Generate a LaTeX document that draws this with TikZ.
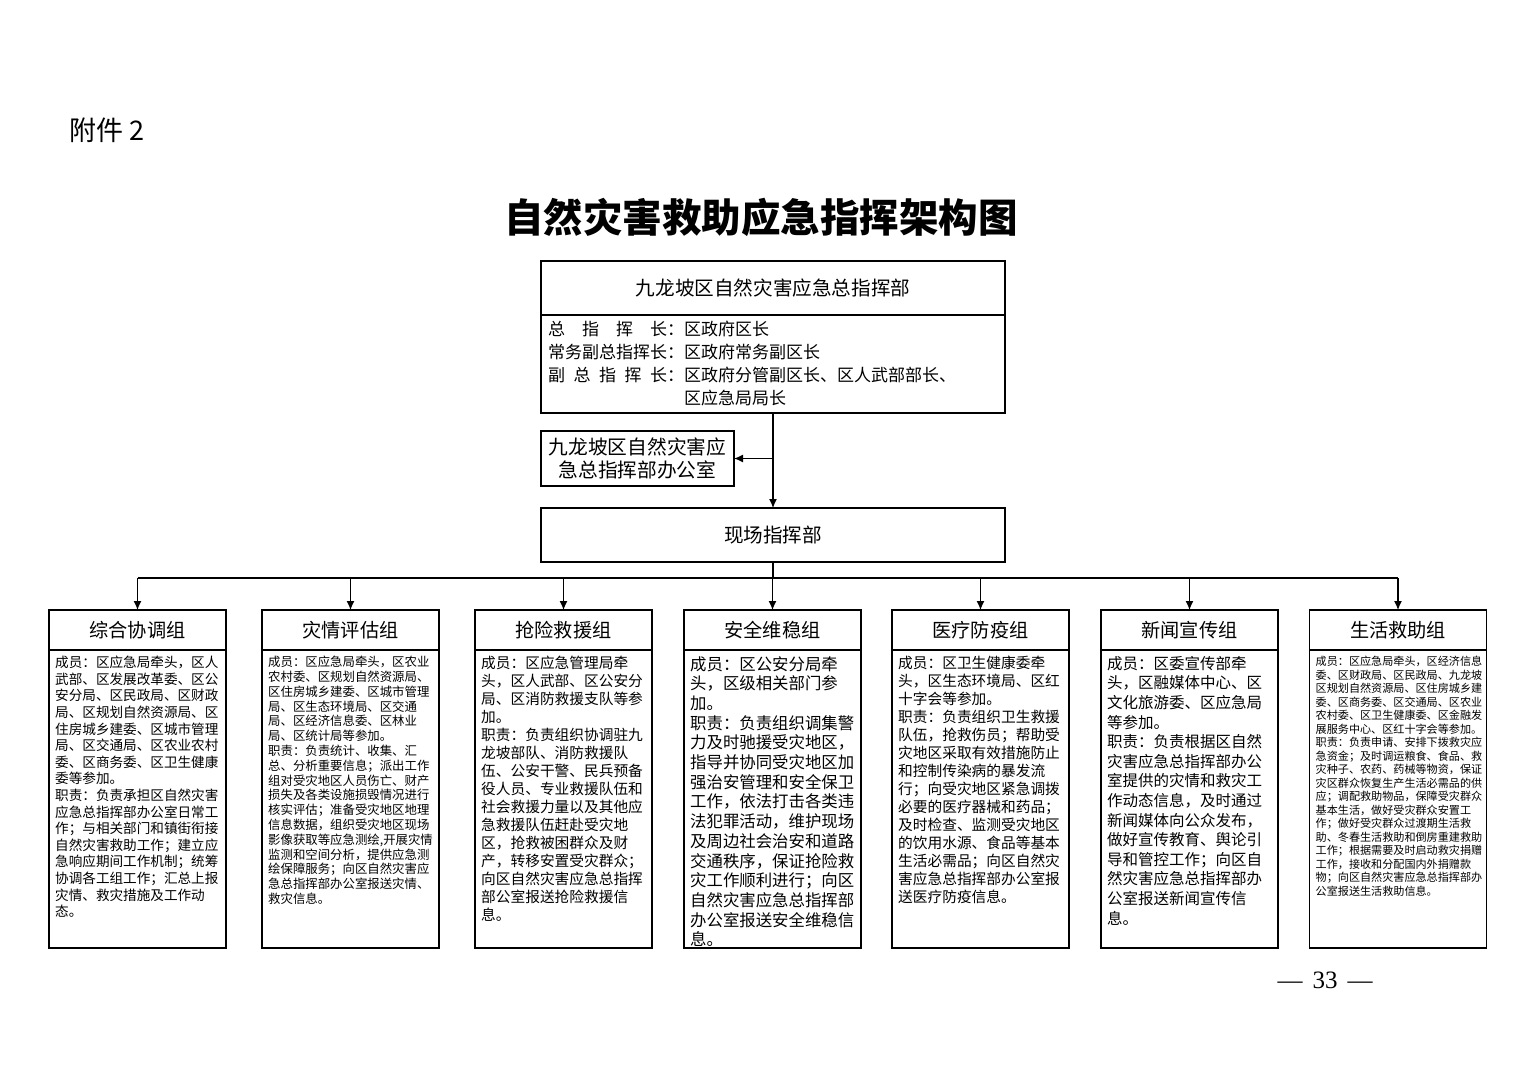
\documentclass[tikz,border=0pt]{standalone}
\usepackage{fontspec}
\setmainfont{Noto Sans CJK SC}
\newfontfamily\numfont{Liberation Serif}
\usetikzlibrary{positioning,arrows.meta}

\tikzset{
  box/.style={draw, line width=1.4pt, inner sep=0pt, outer sep=0pt},
  ghead/.style={box, minimum width=177pt, minimum height=40pt, font=\fontsize{19.2}{23}\selectfont},
  gbody/.style={box, minimum width=177pt, minimum height=298pt},
  gtext/.style={anchor=north west, align=left, inner sep=0pt, xshift=6pt, yshift=-6pt},
  arr/.style={line width=1.2pt, -{Latex[length=9pt,width=8pt]}},
}

\begin{document}
\begin{tikzpicture}[x=1pt,y=-1pt]
\useasboundingbox (0,0) rectangle (1520,1074);

% title
\node[anchor=west, font=\fontsize{27}{30}\selectfont] (fj) at (66,130) {附件 2};
\node[font=\fontsize{39.5}{44}\selectfont\bfseries] (title) at (761,217) {自然灾害救助应急指挥架构图};

% command
\node[box, minimum width=464pt, minimum height=54pt, font=\fontsize{19.6}{23}\selectfont] (hq) at (773,288) {九龙坡区自然灾害应急总指挥部};
\node[box, below=0pt of hq, minimum width=464pt, minimum height=98pt, text width=450pt, align=left, font=\fontsize{17}{23}\selectfont] (hqlist) {\makebox[7em][s]{总\hfill 指\hfill 挥\hfill 长}：区政府区长\\
常务副总指挥长：区政府常务副区长\\
\makebox[7em][s]{副\hfill 总\hfill 指\hfill 挥\hfill 长}：区政府分管副区长、区人武部部长、\\
\hspace*{8em}区应急局局长};
\node[box, minimum width=193pt, minimum height=55pt, align=center, font=\fontsize{19.7}{23}\selectfont] (office) at (637.5,458.5) {九龙坡区自然灾害应\\急总指挥部办公室};
\node[box, minimum width=464pt, minimum height=54pt, font=\fontsize{19.6}{23}\selectfont] (site) at (773,535) {现场指挥部};
\coordinate (bus) at (773,578);

% groups
\node[ghead] (g1) at (137.5,630) {综合协调组};
\node[ghead] (g2) at (350.5,630) {灾情评估组};
\node[ghead] (g3) at (563.5,630) {抢险救援组};
\node[ghead] (g4) at (772.5,630) {安全维稳组};
\node[ghead] (g5) at (980.5,630) {医疗防疫组};
\node[ghead] (g6) at (1189.5,630) {新闻宣传组};
\node[ghead] (g7) at (1398,630) {生活救助组};

\node[gbody, below=0pt of g1] (b1) {};
\node[gbody, below=0pt of g2] (b2) {};
\node[gbody, below=0pt of g3] (b3) {};
\node[gbody, below=0pt of g4] (b4) {};
\node[gbody, below=0pt of g5] (b5) {};
\node[gbody, below=0pt of g6] (b6) {};
\node[gbody, below=0pt of g7] (b7) {};

\node[gtext, font=\fontsize{13.6}{16.6}\selectfont] (t1) at (b1.north west) {成员：区应急局牵头，区人\\
武部、区发展改革委、区公\\
安分局、区民政局、区财政\\
局、区规划自然资源局、区\\
住房城乡建委、区城市管理\\
局、区交通局、区农业农村\\
委、区商务委、区卫生健康\\
委等参加。\\
职责：负责承担区自然灾害\\
应急总指挥部办公室日常工\\
作；与相关部门和镇街衔接\\
自然灾害救助工作；建立应\\
急响应期间工作机制；统筹\\
协调各工组工作；汇总上报\\
灾情、救灾措施及工作动\\
态。};
\node[gtext, font=\fontsize{12.4}{14.8}\selectfont] (t2) at (b2.north west) {成员：区应急局牵头，区农业\\
农村委、区规划自然资源局、\\
区住房城乡建委、区城市管理\\
局、区生态环境局、区交通\\
局、区经济信息委、区林业\\
局、区统计局等参加。\\
职责：负责统计、收集、汇\\
总、分析重要信息；派出工作\\
组对受灾地区人员伤亡、财产\\
损失及各类设施损毁情况进行\\
核实评估；准备受灾地区地理\\
信息数据，组织受灾地区现场\\
影像获取等应急测绘,开展灾情\\
监测和空间分析，提供应急测\\
绘保障服务；向区自然灾害应\\
急总指挥部办公室报送灾情、\\
救灾信息。};
\node[gtext, font=\fontsize{14.7}{18}\selectfont] (t3) at (b3.north west) {成员：区应急管理局牵\\
头，区人武部、区公安分\\
局、区消防救援支队等参\\
加。\\
职责：负责组织协调驻九\\
龙坡部队、消防救援队\\
伍、公安干警、民兵预备\\
役人员、专业救援队伍和\\
社会救援力量以及其他应\\
急救援队伍赶赴受灾地\\
区，抢救被困群众及财\\
产，转移安置受灾群众；\\
向区自然灾害应急总指挥\\
部公室报送抢险救援信\\
息。};
\node[gtext, font=\fontsize{16.4}{19.7}\selectfont] (t4) at (b4.north west) {成员：区公安分局牵\\
头，区级相关部门参\\
加。\\
职责：负责组织调集警\\
力及时驰援受灾地区，\\
指导并协同受灾地区加\\
强治安管理和安全保卫\\
工作，依法打击各类违\\
法犯罪活动，维护现场\\
及周边社会治安和道路\\
交通秩序，保证抢险救\\
灾工作顺利进行；向区\\
自然灾害应急总指挥部\\
办公室报送安全维稳信\\
息。};
\node[gtext, font=\fontsize{14.7}{18}\selectfont] (t5) at (b5.north west) {成员：区卫生健康委牵\\
头，区生态环境局、区红\\
十字会等参加。\\
职责：负责组织卫生救援\\
队伍，抢救伤员；帮助受\\
灾地区采取有效措施防止\\
和控制传染病的暴发流\\
行；向受灾地区紧急调拨\\
必要的医疗器械和药品；\\
及时检查、监测受灾地区\\
的饮用水源、食品等基本\\
生活必需品；向区自然灾\\
害应急总指挥部办公室报\\
送医疗防疫信息。};
\node[gtext, font=\fontsize{15.5}{19.6}\selectfont] (t6) at (b6.north west) {成员：区委宣传部牵\\
头，区融媒体中心、区\\
文化旅游委、区应急局\\
等参加。\\
职责：负责根据区自然\\
灾害应急总指挥部办公\\
室提供的灾情和救灾工\\
作动态信息，及时通过\\
新闻媒体向公众发布，\\
做好宣传教育、舆论引\\
导和管控工作；向区自\\
然灾害应急总指挥部办\\
公室报送新闻宣传信\\
息。};
\node[gtext, font=\fontsize{11.1}{13.5}\selectfont] (t7) at (b7.north west) {成员：区应急局牵头，区经济信息\\
委、区财政局、区民政局、九龙坡\\
区规划自然资源局、区住房城乡建\\
委、区商务委、区交通局、区农业\\
农村委、区卫生健康委、区金融发\\
展服务中心、区红十字会等参加。\\
职责：负责申请、安排下拨救灾应\\
急资金；及时调运粮食、食品、救\\
灾种子、农药、药械等物资，保证\\
灾区群众恢复生产生活必需品的供\\
应；调配救助物品，保障受灾群众\\
基本生活，做好受灾群众安置工\\
作；做好受灾群众过渡期生活救\\
助、冬春生活救助和倒房重建救助\\
工作；根据需要及时启动救灾捐赠\\
工作，接收和分配国内外捐赠款\\
物；向区自然灾害应急总指挥部办\\
公室报送生活救助信息。};

% connectors
\draw[arr] (hqlist.south) -- (site.north);
\draw[arr] (hqlist.south |- office.east) -- (office.east);
\draw[line width=1.2pt] (site.south) -- (bus);
\draw[line width=1.2pt] (g1.north |- bus) -- (g7.north |- bus);
\draw[arr] (g1.north |- bus) -- (g1.north);
\draw[arr] (g2.north |- bus) -- (g2.north);
\draw[arr] (g3.north |- bus) -- (g3.north);
\draw[arr] (g4.north |- bus) -- (g4.north);
\draw[arr] (g5.north |- bus) -- (g5.north);
\draw[arr] (g6.north |- bus) -- (g6.north);
\draw[arr] (g7.north |- bus) -- (g7.north);

% page number
\node[font=\numfont\fontsize{25}{28}\selectfont] (pg) at (1325,980) {—\hspace{10pt}33\hspace{10pt}—};
\end{tikzpicture}
\end{document}
